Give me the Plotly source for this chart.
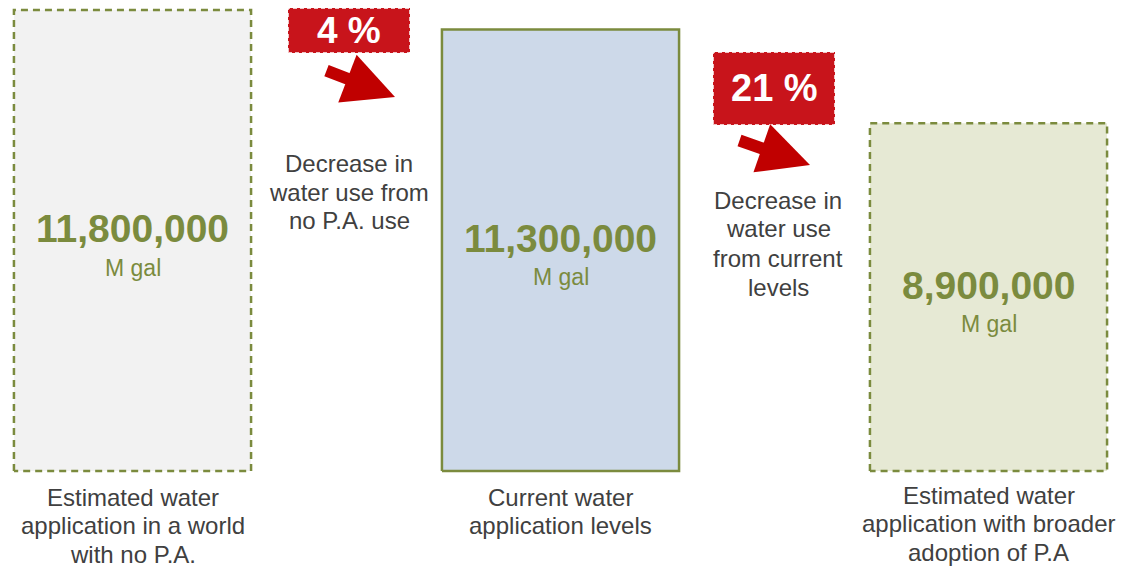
import plotly.graph_objects as go

# data
categories = [
    "Estimated water<br>application in a world<br>with no P.A.",
    "Current water<br>application levels",
    "Estimated water<br>application with broader<br>adoption of P.A",
]
water_use = [11_800_000, 11_300_000, 8_900_000]  # M gal
unit = "M gal"
decrease_pct = [4, 21]
decrease_notes = [
    "Decrease in<br>water use from<br>no P.A. use",
    "Decrease in<br>water use<br>from current<br>levels",
]

W, H = 1126, 567
FONT = "Arial, Liberation Sans, sans-serif"
OLIVE = "#7b8b3e"
RED = "#c8141b"
GREY_TXT = "#404040"
fills = ["#f2f2f2", "#cdd9e9", "#e6e9d4"]
border_dash = ["7px,5px", "solid", "7px,5px"]
bar_w = 0.554


def px_x(p):
    return p / W


def px_y(p):
    return 1 - p / H


def text_lines(x, y_first, text, xref, size, step):
    # one annotation per line so the line spacing can be set
    out = []
    for k, line in enumerate(text.split("<br>")):
        out.append(dict(x=x, y=px_y(y_first + step * k), xref=xref, yref="paper", text=line,
                        showarrow=False, xanchor="center", yanchor="middle",
                        font=dict(family=FONT, size=size, color=GREY_TXT)))
    return out


fig = go.Figure()
xs = list(range(len(water_use)))
fig.add_trace(go.Bar(x=xs, y=water_use, width=bar_w, marker=dict(color=fills, line=dict(width=0)),
                     hoverinfo="skip", showlegend=False))

# bar outlines (dashed ones can't be done with marker.line)
for x, v, d in zip(xs, water_use, border_dash):
    l, r = x - bar_w / 2, x + bar_w / 2
    fig.add_trace(go.Scatter(x=[l, l, r, r, l], y=[0, v, v, 0, 0], mode="lines",
                             line=dict(color=OLIVE, width=2.5, dash=d), hoverinfo="skip", showlegend=False))

ann = []
# values inside the bars
for x, v in zip(xs, water_use):
    ann.append(dict(x=x, y=v / 2, xref="x", yref="y", text=f"<b>{v:,}</b>", showarrow=False, yshift=12,
                    xanchor="center", yanchor="middle", font=dict(family=FONT, size=39, color=OLIVE)))
    ann.append(dict(x=x, y=v / 2, xref="x", yref="y", text=unit, showarrow=False, yshift=-27,
                    xanchor="center", yanchor="middle", font=dict(family=FONT, size=23, color=OLIVE)))

# category labels under the bars
label_first = [497, 497, 495]
for x, c, py in zip(xs, categories, label_first):
    ann += text_lines(x, py, c, "x", 24, 28.5)

# decrease boxes, arrows and notes
boxes = [(288, 8, 410, 53, 37), (713, 52, 835, 125, 38)]
arrows = [(395, 97, -70, -27), (810, 165, -72, -25)]
notes_pos = [(349, 163), (778, 200)]
shapes = []
for i, pct in enumerate(decrease_pct):
    x0, y0, x1, y1, fs = boxes[i]
    shapes.append(dict(type="rect", xref="paper", yref="paper", x0=px_x(x0), x1=px_x(x1),
                       y0=px_y(y1), y1=px_y(y0), fillcolor=RED, layer="below",
                       line=dict(color="#ffffff", width=1.5, dash="4px,3px")))
    ann.append(dict(x=px_x((x0 + x1) / 2), y=px_y((y0 + y1) / 2), xref="paper", yref="paper",
                    text=f"<b>{pct} %</b>", showarrow=False, xanchor="center", yanchor="middle",
                    font=dict(family=FONT, size=fs, color="#ffffff")))
    tx, ty, ax, ay = arrows[i]
    ann.append(dict(x=px_x(tx), y=px_y(ty), xref="paper", yref="paper", text="", showarrow=True,
                    ax=ax, ay=ay, arrowhead=2, arrowwidth=12, arrowsize=0.85, arrowcolor="#c00000", standoff=0))
    nx, ny = notes_pos[i]
    ann += text_lines(px_x(nx), ny, decrease_notes[i], "paper", 24, 29)

px_per_unit = 461 / water_use[0]
y_bottom = -(H - 471) / px_per_unit
y_top = y_bottom + H / px_per_unit
x_left = -132.5 / 428
x_right = x_left + W / 428

fig.update_layout(
    width=W, height=H,
    margin=dict(l=0, r=0, t=0, b=0),
    paper_bgcolor="white", plot_bgcolor="white",
    xaxis=dict(range=[x_left, x_right], visible=False, fixedrange=True),
    yaxis=dict(range=[y_bottom, y_top], visible=False, fixedrange=True),
    annotations=ann, shapes=shapes, showlegend=False,
)

fig.write_html("out.html", config={"displayModeBar": False},
               post_script="document.body.style.margin='0';")
